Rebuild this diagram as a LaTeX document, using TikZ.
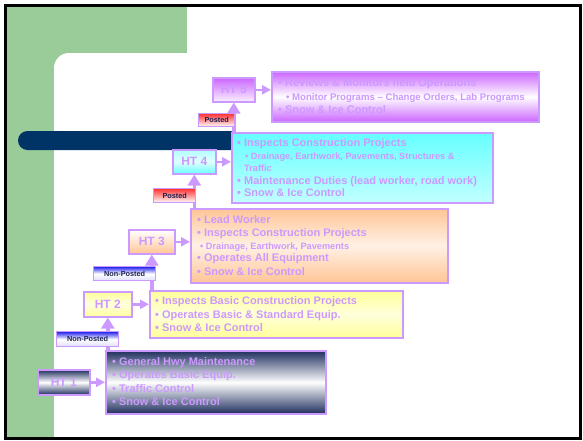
\documentclass[tikz,border=0pt]{standalone}
\usepackage{fontspec}
\setmainfont{Liberation Sans}
\usetikzlibrary{arrows.meta}
\definecolor{lav}{HTML}{CC99FF}
\definecolor{slidegreen}{HTML}{99CC99}
\definecolor{barblue}{HTML}{003366}
\definecolor{navytxt}{HTML}{1A2050}
\definecolor{hwynavy}{HTML}{1F2F5F}
\definecolor{purp}{HTML}{CC66FF}
\definecolor{cyanx}{HTML}{66FFFF}
\definecolor{peach}{HTML}{FFC596}
\definecolor{yel}{HTML}{FFFF99}
\definecolor{postred}{HTML}{FF3333}
\definecolor{postblue}{HTML}{2222EE}
\tikzset{
  boxstyle/.style={draw=lav, line width=1.6pt, inner sep=0pt, anchor=north west},
  htlabel/.style={boxstyle, text=lav, font=\bfseries\fontsize{12}{14}\selectfont},
  postlabel/.style={draw=lav, line width=1.4pt, inner sep=0pt, anchor=north west,
     text=navytxt, font=\bfseries\fontsize{7.3}{8}\selectfont},
  txt/.style={anchor=base west, inner sep=0pt, text=lav, font=\bfseries\fontsize{11}{13}\selectfont},
  subtxt/.style={txt, font=\bfseries\fontsize{9.2}{11}\selectfont},
  midtxt/.style={txt, font=\bfseries\fontsize{9.6}{11}\selectfont},
  harrow/.style={draw=lav, line width=2.4pt, -{Triangle[length=9pt,width=9pt]}},
  varrow/.style={draw=lav, line width=3.5pt, -{Triangle[length=11pt,width=13pt]}},
}
\begin{document}
\begin{tikzpicture}[x=1pt,y=-1pt]
\useasboundingbox (0,0) rectangle (583,440);
% background
\fill[slidegreen] (7,7) rectangle (187,438);
\fill[white] (54,438) [rounded corners=15pt] -- (54,53) -- (200,53) [sharp corners] -- (200,438) -- cycle;
\fill[barblue, rounded corners=9.5pt] (18,131) rectangle (240,150);
\draw[black, line width=3pt] (5.5,5.5) rectangle (580.5,438.5);

% content boxes
\node[boxstyle, top color=purp, bottom color=purp, middle color=white, minimum width=267pt, minimum height=50pt] (c5) at (271,71) {};
\node[boxstyle, top color=cyanx, bottom color=cyanx!40, middle color=cyanx!70, minimum width=261pt, minimum height=70pt] (c4) at (231,132) {};
\node[boxstyle, top color=peach, bottom color=peach, middle color=peach!25, minimum width=257pt, minimum height=74pt] (c3) at (190,208) {};
\node[boxstyle, top color=yel, bottom color=yel, middle color=yel!35, minimum width=253pt, minimum height=47pt] (c2) at (149,290) {};
\node[boxstyle, top color=hwynavy, bottom color=hwynavy, middle color=white, minimum width=220pt, minimum height=63pt] (c1) at (105,350) {};

% HT labels
\node[htlabel, top color=purp, bottom color=purp!10, minimum width=42pt, minimum height=24pt] (l5) at (212,77) {HT 5};
\node[htlabel, top color=cyanx!50, bottom color=cyanx, middle color=cyanx!20, minimum width=43pt, minimum height=24pt] (l4) at (172,149) {HT 4};
\node[htlabel, top color=white, bottom color=peach, minimum width=46pt, minimum height=24pt] (l3) at (128,229) {HT 3};
\node[htlabel, top color=yel, bottom color=yel, middle color=yel!30, minimum width=48pt, minimum height=25pt] (l2) at (83,291) {HT 2};
\node[htlabel, top color=hwynavy, bottom color=hwynavy, middle color=white, minimum width=52pt, minimum height=25pt] (l1) at (37,369) {HT 1\hspace{12pt}};

% horizontal arrows
\draw[harrow] (l5.east) -- (l5.east -| c5.west);
\draw[harrow] (l4.east) -- (l4.east -| c4.west);
\draw[harrow] (l3.east) -- (l3.east -| c3.west);
\draw[harrow] (l2.east) -- (l2.east -| c2.west);
\draw[harrow] (l1.east) -- (l1.east -| c1.west);

% vertical arrows
\draw[varrow] (l5.south |- c4.north) -- (l5.south);
\draw[varrow] (l4.south |- c3.north) -- (l4.south);
\draw[varrow] (l3.south |- c2.north) -- (l3.south);
\draw[varrow] (l2.south |- c1.north) -- (l2.south);

% posted labels
\node[postlabel, top color=postred, bottom color=white, minimum width=36pt, minimum height=13pt] (p5) at (198,113) {Posted};
\node[postlabel, top color=postred, bottom color=white, minimum width=42pt, minimum height=14pt] (p4) at (153,188) {Posted};
\node[postlabel, top color=postblue, bottom color=postblue!15, middle color=white, minimum width=62pt, minimum height=14pt] (p3) at (93,266) {Non-Posted};
\node[postlabel, top color=postblue, bottom color=postblue!15, middle color=white, minimum width=62pt, minimum height=15pt] (p2) at (56,331) {Non-Posted};

% texts HT5
\node[txt] (t5a) at (278,86.9) {• Reviews \& Monitors field Operations};
\node[midtxt] (t5b) at (286,100.4) {• Monitor Programs – Change Orders, Lab Programs};
\node[txt] (t5c) at (278,113.9) {• Snow \& Ice Control};
% HT4
\node[txt] (t4a) at (237,146.9) {• Inspects Construction Projects};
\node[subtxt] (t4b) at (245,159.3) {• Drainage, Earthwork, Pavements, Structures \&};
\node[subtxt] (t4c) at (244,171.3) {Traffic};
\node[txt] (t4d) at (237,184.9) {• Maintenance Duties (lead worker, road work)};
\node[txt] (t4e) at (237,196.9) {• Snow \& Ice Control};
% HT3
\node[txt] (t3a) at (197,223.9) {• Lead Worker};
\node[txt] (t3b) at (197,236.9) {• Inspects Construction Projects};
\node[subtxt] (t3c) at (200,249.3) {• Drainage, Earthwork, Pavements};
\node[txt] (t3d) at (197,261.9) {• Operates All Equipment};
\node[txt] (t3e) at (197,275.9) {• Snow \& Ice Control};
% HT2
\node[txt] (t2a) at (155,304.9) {• Inspects Basic Construction Projects};
\node[txt] (t2b) at (155,318.9) {• Operates Basic \& Standard Equip.};
\node[txt] (t2c) at (155,331.9) {• Snow \& Ice Control};
% HT1
\node[txt] (t1a) at (112,365.9) {• General Hwy Maintenance};
\node[txt] (t1b) at (112,378.9) {• Operates Basic Equip.};
\node[txt] (t1c) at (112,392.9) {• Traffic Control};
\node[txt] (t1d) at (112,405.9) {• Snow \& Ice Control};
\end{tikzpicture}
\end{document}
